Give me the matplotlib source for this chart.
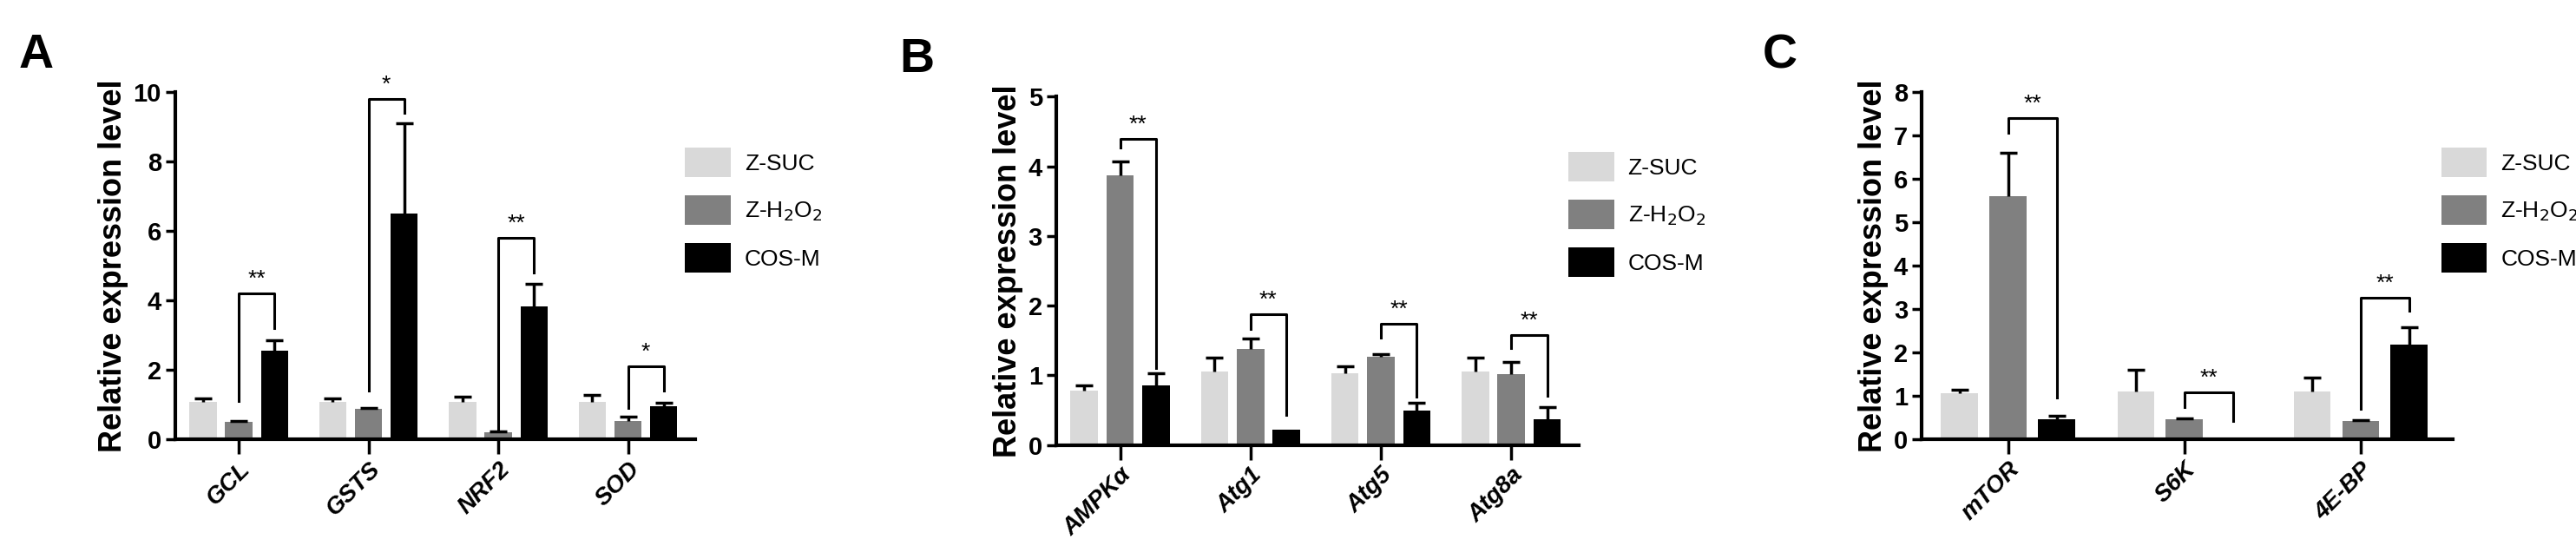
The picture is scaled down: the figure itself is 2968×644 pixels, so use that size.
import numpy as np
import matplotlib
matplotlib.use('Agg')
import matplotlib.pyplot as plt

plt.rcParams['font.family'] = ['Liberation Sans', 'DejaVu Sans']

groups = ['Z-SUC', 'Z-H$_2$O$_2$', 'COS-M']
colors = ['#d9d9d9', '#808080', '#000000']

# panel A
genes_a = ['GCL', 'GSTS', 'NRF2', 'SOD']
mean_a = [[1.07, 1.07, 1.07, 1.07], [0.50, 0.88, 0.20, 0.52], [2.55, 6.50, 3.82, 0.95]]
err_a = [[0.10, 0.10, 0.15, 0.22], [0.03, 0.03, 0.02, 0.14], [0.30, 2.60, 0.65, 0.10]]
# brackets: (group index, top, left leg bottom, right leg bottom, label)
brk_a = [(0, 4.2, 1.1, 3.2, '**'), (1, 9.8, 1.4, 9.4, '*'), (2, 5.8, 0.3, 4.8, '**'), (3, 2.1, 0.9, 1.4, '*')]

# panel B
genes_b = ['AMPKα', 'Atg1', 'Atg5', 'Atg8a']
mean_b = [[0.78, 1.05, 1.03, 1.05], [3.87, 1.38, 1.27, 1.02], [0.85, 0.22, 0.50, 0.37]]
err_b = [[0.07, 0.20, 0.10, 0.20], [0.20, 0.15, 0.04, 0.17], [0.18, 0.00, 0.10, 0.17]]
brk_b = [(0, 4.4, 4.27, 1.1, '**'), (1, 1.88, 1.67, 0.43, '**'), (2, 1.74, 1.54, 0.69, '**'), (3, 1.58, 1.39, 0.70, '**')]

# panel C
genes_c = ['mTOR', 'S6K', '4E-BP']
mean_c = [[1.07, 1.10, 1.10], [5.60, 0.46, 0.42], [0.47, 0.03, 2.18]]
err_c = [[0.08, 0.50, 0.32], [1.00, 0.02, 0.03], [0.08, 0.00, 0.40]]
brk_c = [(0, 7.4, 7.06, 0.96, '**'), (1, 1.08, 0.75, 0.42, '**'), (2, 3.27, 0.7, 2.97, '**')]

panels = [
    ('A', genes_a, mean_a, err_a, brk_a, 10, 2, [0.068, 0.214, 0.202, 0.621]),
    ('B', genes_b, mean_b, err_b, brk_b, 5, 1, [0.410, 0.204, 0.203, 0.623]),
    ('C', genes_c, mean_c, err_c, brk_c, 8, 1, [0.746, 0.214, 0.206, 0.621]),
]

fig = plt.figure(figsize=(29.68, 6.44), dpi=100)
off = 0.275
w = 0.21
for letter, genes, means, errs, brks, ymax, step, rect in panels:
    ax = fig.add_axes(rect)
    x = np.arange(len(genes))
    for i in range(3):
        xi = x + (i - 1) * off
        m = np.array(means[i])
        e = np.array(errs[i])
        ax.bar(xi, m, w, color=colors[i], label=groups[i])
        # upper-only error bars with a single cap
        ax.vlines(xi[e > 0], m[e > 0], (m + e)[e > 0], color='black', lw=2.5)
        ax.plot(xi[e > 0], (m + e)[e > 0], ls='none', marker='_', ms=14, mew=2.5, color='black')
    for g, top, lb, rb, lab in brks:
        x1 = g
        x2 = g + off
        ax.plot([x1, x1, x2, x2], [lb, top, top, rb], color='black', lw=2.2)
        ax.text((x1 + x2) / 2, top + ymax * 0.01, lab, ha='center', va='bottom', fontsize=19)
    ax.set_xlim(-0.49, len(genes) - 0.48)
    ax.set_ylim(0, ymax)
    ax.set_yticks(np.arange(0, ymax + 0.01, step))
    ax.set_xticks(x)
    ax.set_xticklabels(genes, rotation=45, ha='right', rotation_mode='anchor',
                       fontsize=20, fontweight='bold', style='italic')
    for t in ax.get_yticklabels():
        t.set_fontsize(21)
        t.set_fontweight('bold')
    ax.tick_params(width=2.5, length=8)
    ax.tick_params(axis='x', length=12)
    for s in ['top', 'right']:
        ax.spines[s].set_visible(False)
    for s in ['left', 'bottom']:
        ax.spines[s].set_linewidth(3)
    ax.set_ylabel('Relative expression level', fontsize=26, fontweight='bold')
    ax.legend(loc='upper left', bbox_to_anchor=(0.94, 0.9), frameon=False,
              fontsize=19, handlelength=2.0, handleheight=1.6, labelspacing=0.8,
              handletextpad=0.6)
    ax.text(-0.3, 1.07, letter, transform=ax.transAxes, fontsize=40, fontweight='bold')

fig.savefig('out.png', dpi=100)
